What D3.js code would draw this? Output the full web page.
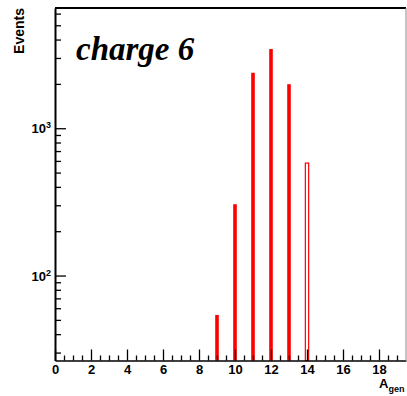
<!DOCTYPE html>
<html>
<head>
<meta charset="utf-8">
<script src="https://cdn.jsdelivr.net/npm/d3@7"></script>
<style>
  html, body { margin: 0; padding: 0; background: #fff; }
  svg { display: block; }
</style>
</head>
<body>
<svg id="chart" width="407" height="396"></svg>
<script>
// ---- data ----
const filledA = [9, 10, 11, 12, 13];
const filledCounts = [54, 305, 2380, 3450, 1990];
const hollowA = [14];
const hollowCounts = [580];
const xMajorTicks = [0, 2, 4, 6, 8, 10, 12, 14, 16, 18];
const yMajorTicks = [100, 1000];
const yMajorLabels = [["10", "2"], ["10", "3"]];
const titleText = "charge 6";
const yTitle = "Events";
const xTitleMain = "A";
const xTitleSub = "gen";

// ---- layout ----
(function () {
const W = 407, H = 396;
const pL = 55, pR = 406, pT = 8, pB = 360.5;
const svg = d3.select("#chart");
svg.append("rect").attr("width", W).attr("height", H).attr("fill", "#fff");

const x = d3.scaleLinear().domain([0, 19.5]).range([pL, pR]);
const y = d3.scaleLog().domain([26.5, 6550]).range([pB, pT]);

const xMinor = d3.range(0, 19.5, 0.5).filter(v => Math.abs(v / 2 - Math.round(v / 2)) > 1e-6);
const yMinor = [];
[10, 100, 1000].forEach(d => { for (let k = 2; k <= 9; k++) { const v = d * k; if (v > y.domain()[0] && v < y.domain()[1]) yMinor.push(v); } });

const font = "'Liberation Sans', Arial, Helvetica, sans-serif";

// bars
const bw = 0.2;
svg.append("g").selectAll("rect").data(filledA).join("rect")
  .attr("x", (d) => x(d - bw / 2))
  .attr("width", x(bw) - x(0))
  .attr("y", (d, i) => y(filledCounts[i]))
  .attr("height", (d, i) => pB - y(filledCounts[i]))
  .attr("fill", "#ff0000");

const hw = 0.24;
svg.append("g").selectAll("rect").data(hollowA).join("rect")
  .attr("x", (d) => x(d - hw / 2) + 0.5)
  .attr("width", x(hw) - x(0) - 1)
  .attr("y", (d, i) => y(hollowCounts[i]))
  .attr("height", (d, i) => pB - y(hollowCounts[i]))
  .attr("fill", "none")
  .attr("stroke", "#ff0000")
  .attr("stroke-width", 1.2);

// x axis (ticks inward)
const gxMinor = svg.append("g").attr("transform", `translate(0,${pB})`)
  .call(d3.axisBottom(x).tickValues(xMinor).tickSize(-5).tickFormat(""));
gxMinor.select(".domain").remove();
const gx = svg.append("g").attr("transform", `translate(0,${pB})`)
  .call(d3.axisBottom(x).tickValues(xMajorTicks).tickSize(-11).tickSizeOuter(0).tickPadding(4).tickFormat(d3.format("d")));
gx.select(".domain").attr("stroke", "#000").attr("stroke-width", 1.6);
svg.selectAll("g.tick line").attr("stroke", "#000").attr("stroke-width", 1.3);
gx.selectAll("text").attr("font-family", font).attr("font-weight", "bold").attr("font-size", 13).attr("fill", "#000");

// y axis
const gyMinor = svg.append("g").attr("transform", `translate(${pL},0)`)
  .call(d3.axisLeft(y).tickValues(yMinor).tickSize(-6).tickFormat(""));
gyMinor.select(".domain").remove();
gyMinor.selectAll("line").attr("stroke", "#000").attr("stroke-width", 1.3);
const gy = svg.append("g").attr("transform", `translate(${pL},0)`)
  .call(d3.axisLeft(y).tickValues(yMajorTicks).tickSize(-11).tickSizeOuter(0).tickFormat(""));
gy.select(".domain").attr("stroke", "#000").attr("stroke-width", 2);
gy.selectAll("line").attr("stroke", "#000").attr("stroke-width", 1.3);
gy.selectAll(".tick").each(function(d) {
  const t = d3.select(this).append("text")
    .attr("x", -4).attr("dy", "0.35em")
    .attr("text-anchor", "end")
    .attr("font-family", font).attr("font-weight", "bold").attr("font-size", 13).attr("fill", "#000");
  const lab = yMajorLabels[yMajorTicks.indexOf(d)];
  t.append("tspan").text(lab[0]);
  t.append("tspan").attr("font-size", 9).attr("dy", "-0.55em").text(lab[1]);
});

// frame top/right
svg.append("line").attr("x1", pL).attr("x2", pR).attr("y1", pT).attr("y2", pT)
  .attr("stroke", "#000").attr("stroke-width", 2);
svg.append("line").attr("x1", pR).attr("x2", pR).attr("y1", pT).attr("y2", pB)
  .attr("stroke", "#888").attr("stroke-width", 1);

// titles
svg.append("text").attr("x", 76).attr("y", 60)
  .attr("font-family", "'Liberation Serif', 'Times New Roman', serif")
  .attr("font-weight", "bold").attr("font-style", "italic").attr("font-size", 33)
  .attr("fill", "#000").text(titleText);

svg.append("text").attr("transform", `translate(24,8) rotate(-90)`)
  .attr("text-anchor", "end")
  .attr("font-family", font).attr("font-weight", "bold").attr("font-size", 14)
  .attr("fill", "#000").text(yTitle);

const xt = svg.append("text").attr("x", 379).attr("y", 388)
  .attr("font-family", font).attr("font-weight", "bold").attr("font-size", 13).attr("fill", "#000");
xt.append("tspan").text(xTitleMain);
xt.append("tspan").attr("font-size", 9).attr("dy", "0.45em").text(xTitleSub);
})();
</script>
</body>
</html>
